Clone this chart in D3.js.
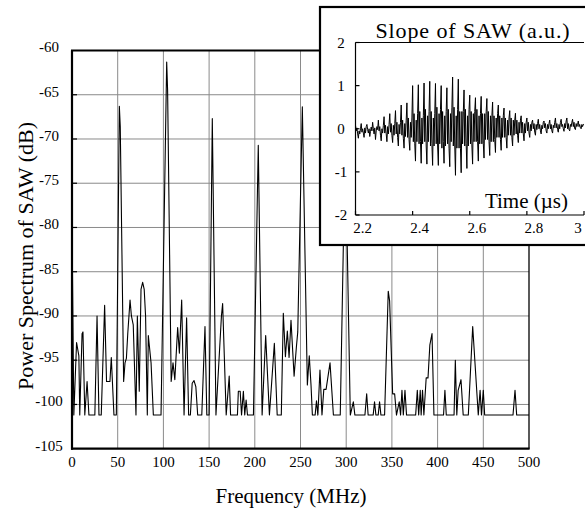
<!DOCTYPE html>
<html><head><meta charset="utf-8">
<script src="https://cdn.jsdelivr.net/npm/d3@7"></script>
<style>
body{margin:0;background:#fff}
svg{display:block}
svg text{font-family:"Liberation Serif","Times New Roman",Times,serif;fill:#000}
</style>
</head><body>
<svg id="c" width="585" height="518"></svg>
<script>
// ---- main spectrum data (MHz, dB) ----
const freqMHz = [
  0, 2, 5, 7.5, 8.5, 11, 12, 14, 16.5, 18.5,
  25, 27.4, 29.5, 32, 35.7, 37.8, 41.5, 43, 45.9, 48.5,
  51.8, 52.8, 56.5, 58, 59.5, 61, 63.5, 65, 67, 70,
  71.5, 73.6, 75.5, 77.3, 79, 80.5, 82.4, 83.5, 86.5, 89,
  97.4, 103.6, 104.6, 108.5, 110.5, 112.5, 115.6, 117.5, 120, 122.6,
  125.4, 127.6, 129.5, 131.5, 133.5, 135.5, 137.5, 142, 145.5, 147.5,
  150, 153.5, 157.5, 163.5, 164.8, 168.7, 172, 173.5, 181, 182,
  184, 185.5, 187.5, 189, 190.5, 192, 196, 198.5, 203.8, 208,
  211.9, 216, 221.4, 224.5, 229, 231.2, 233.5, 235.6, 237.5, 239.6,
  243, 245.5, 247, 252, 257.5, 259.6, 261.5, 263, 266, 267.5,
  269, 271.3, 273.5, 275.5, 278, 282.3, 286, 293.5, 299, 304.5,
  307.8, 309.5, 320.5, 322.4, 324, 329.5, 331, 332.5, 335, 336.5,
  338, 342, 346, 347.5, 350.8, 353, 355, 358, 359.5, 361,
  362.5, 364.3, 366, 376, 377.8, 379.3, 381, 382, 383.5, 385,
  387.5, 389.5, 391.5, 393.9, 396, 406.5, 408, 409.5, 418, 419.4,
  421, 422.5, 425.6, 428, 433.6, 438.4, 444.5, 446.5, 448, 450,
  451.5, 482.5, 484.7, 486.5, 500
];
const powerDB = [
  -79.5, -101.2, -93, -94.5, -101.2, -92, -91.8, -101.2, -97.4, -101.2,
  -101.2, -90, -101.2, -101.2, -88.8, -97.4, -97.4, -94.7, -101.2, -101.2,
  -66.3, -68.6, -97.4, -95.3, -94.8, -92, -88.2, -90, -91, -101.2,
  -90, -98.5, -87, -86.2, -87, -90, -101.2, -92.2, -95.3, -101.2,
  -101.2, -61.3, -64.5, -97.4, -95.3, -97.2, -91.3, -94.2, -88.2, -101.2,
  -90.2, -101.2, -101.2, -97.6, -97.3, -98, -101.2, -101.2, -91.2, -101.2,
  -101.2, -67.7, -101.2, -90, -88.6, -101.2, -96.8, -101.2, -101.2, -98.5,
  -98.5, -101.2, -98.5, -101.2, -99.5, -101.2, -101.2, -101.2, -70.7, -101.2,
  -92.2, -101.2, -93.1, -101.2, -101.2, -89.7, -94.6, -91.7, -94.7, -90.5,
  -96.8, -93.5, -91.8, -66.35, -97.8, -94.5, -97.8, -101.2, -101.2, -99.6,
  -101.2, -96.1, -101.2, -98.3, -98.3, -95.3, -101.2, -101.2, -70, -101.2,
  -99.7, -101.2, -101.2, -98.8, -101.2, -101.2, -99.7, -101.2, -101.2, -99.7,
  -101.2, -101.2, -87.2, -88.3, -98.8, -98.8, -101.2, -99.7, -101.2, -98.4,
  -101.2, -98.4, -101.2, -101.2, -98.4, -101.2, -98.4, -101.2, -98.4, -101.2,
  -97, -97, -93.3, -92, -101.2, -101.2, -98.4, -101.2, -101.2, -95,
  -101.2, -98.4, -97.2, -101.2, -101.2, -91.2, -101.2, -98.4, -101.2, -98.4,
  -101.2, -101.2, -98.4, -101.2, -101.2
];
const xTickValues = [0, 50, 100, 150, 200, 250, 300, 350, 400, 450, 500];
const yTickValues = [-105, -100, -95, -90, -85, -80, -75, -70, -65, -60];

// ---- inset waveform data: scope samples every 2.5 ns from 2.2 µs (a.u.) ----
const waveStartUs = 2.2;
const waveSampleUs = 0.0025;
const waveSlope = [
  0.08, -0.05, 0.02, -0.12, -0.22, -0.05, -0.12, 0.0,
  0.12, -0.08, 0.0, -0.1, -0.2, 0.02, -0.1, 0.05,
  0.1, -0.02, -0.1, 0.0, -0.18, -0.06, 0.04, -0.05,
  0.15, 0.0, -0.12, 0.02, -0.25, -0.05, 0.05, -0.02,
  0.2, -0.05, 0.05, -0.15, -0.28, 0.0, -0.1, 0.08,
  0.28, -0.1, 0.08, -0.12, -0.3, 0.05, -0.12, 0.1,
  0.35, -0.08, 0.12, -0.15, -0.32, 0.08, -0.15, 0.12,
  0.42, -0.12, 0.15, -0.2, -0.4, 0.1, -0.12, 0.15,
  0.55, -0.15, 0.2, -0.22, -0.45, 0.12, -0.18, 0.2,
  0.6, -0.2, 0.25, -0.25, -0.5, 0.15, -0.2, 0.25,
  1.0, -0.3, 0.35, -0.35, -0.75, 0.2, -0.3, 0.35,
  1.02, -0.35, 0.4, -0.3, -0.8, 0.25, -0.35, 0.3,
  1.06, -0.3, 0.45, -0.4, -0.82, 0.3, -0.3, 0.4,
  1.1, -0.4, 0.4, -0.35, -0.85, 0.25, -0.4, 0.35,
  1.05, -0.35, 0.5, -0.4, -0.85, 0.35, -0.35, 0.45,
  1.0, -0.45, 0.4, -0.3, -0.8, 0.3, -0.4, 0.4,
  0.95, -0.35, 0.45, -0.45, -0.88, 0.35, -0.3, 0.5,
  1.2, -0.4, 0.5, -0.4, -1.08, 0.3, -0.45, 0.45,
  1.15, -0.45, 0.4, -0.45, -1.02, 0.4, -0.35, 0.4,
  0.9, -0.4, 0.45, -0.35, -0.92, 0.3, -0.4, 0.45,
  0.78, -0.35, 0.4, -0.4, -0.82, 0.35, -0.3, 0.4,
  0.72, -0.3, 0.45, -0.3, -0.75, 0.3, -0.35, 0.35,
  0.75, -0.35, 0.35, -0.35, -0.68, 0.35, -0.25, 0.4,
  0.7, -0.25, 0.4, -0.3, -0.62, 0.3, -0.3, 0.3,
  0.62, -0.3, 0.3, -0.25, -0.55, 0.25, -0.2, 0.35,
  0.55, -0.2, 0.3, -0.25, -0.5, 0.25, -0.2, 0.3,
  0.48, -0.2, 0.25, -0.2, -0.45, 0.2, -0.15, 0.25,
  0.42, -0.15, 0.25, -0.2, -0.4, 0.2, -0.15, 0.2,
  0.36, -0.12, 0.2, -0.15, -0.32, 0.15, -0.1, 0.2,
  0.3, -0.1, 0.15, -0.12, -0.28, 0.12, -0.1, 0.15,
  0.25, -0.05, 0.15, -0.1, -0.2, 0.1, -0.05, 0.15,
  0.2, 0.0, 0.12, -0.08, -0.15, 0.1, -0.02, 0.12,
  0.22, 0.0, 0.1, -0.05, -0.12, 0.08, 0.0, 0.15,
  0.18, 0.02, 0.12, -0.05, -0.1, 0.1, 0.0, 0.12,
  0.2, 0.0, 0.1, -0.05, -0.1, 0.08, 0.02, 0.15,
  0.25, 0.02, 0.12, -0.02, -0.08, 0.1, 0.0, 0.15,
  0.22, 0.05, 0.1, 0.0, -0.06, 0.12, 0.02, 0.18,
  0.25, 0.0, 0.12, -0.02, -0.05, 0.1, 0.05, 0.15,
  0.22, 0.05, 0.15, 0.0, -0.02, 0.12, 0.05, 0.1,
  0.18, 0.05, 0.1, 0.02, 0.0, 0.1, 0.05, 0.1,
  0.1
];
const insetXTicks = [2.2, 2.4, 2.6, 2.8, 3];
const insetYTicks = [-2, -1, 0, 1, 2];

// ---- labels ----
const yTitle = "Power Spectrum of SAW (dB)";
const xTitle = "Frequency (MHz)";
const insetTitle = "Slope of SAW (a.u.)";
const insetXTitle = "Time (\u00B5s)";

const FONT = "'Liberation Serif', 'Times New Roman', Times, serif";
const svg = d3.select("#c");

// main plot area
const M = {left: 72, right: 529, top: 50.5, bottom: 448.7};
const x = d3.scaleLinear().domain([0, 500]).range([M.left, M.right]);
const y = d3.scaleLinear().domain([-105, -60]).range([M.bottom, M.top]);

const grid = svg.append("g").attr("stroke", "#8a8a8a").attr("stroke-width", 1);
grid.selectAll("line.v").data(xTickValues.slice(1, -1)).join("line")
  .attr("x1", d => x(d)).attr("x2", d => x(d))
  .attr("y1", M.top).attr("y2", M.bottom);
grid.selectAll("line.h").data(yTickValues.slice(1, -1)).join("line")
  .attr("x1", M.left).attr("x2", M.right)
  .attr("y1", d => y(d)).attr("y2", d => y(d));

// y tick marks (inside)
svg.append("g").attr("stroke", "#000").attr("stroke-width", 1.2)
  .selectAll("line").data(yTickValues.slice(1, -1)).join("line")
  .attr("x1", M.left).attr("x2", M.left + 5)
  .attr("y1", d => y(d)).attr("y2", d => y(d));

// spectrum line
const specData = freqMHz.map((f, i) => [f, powerDB[i]]);
svg.append("path").datum(specData)
  .attr("fill", "none").attr("stroke", "#000").attr("stroke-width", 1.1)
  .attr("stroke-linejoin", "round")
  .attr("d", d3.line().x(d => x(d[0])).y(d => y(d[1])));

// frame
svg.append("line").attr("x1", M.right).attr("x2", M.right).attr("y1", M.top).attr("y2", M.bottom)
  .attr("stroke", "#000").attr("stroke-width", 1.3);
svg.append("line").attr("x1", M.left - 1).attr("x2", M.right + 0.6).attr("y1", M.top).attr("y2", M.top)
  .attr("stroke", "#000").attr("stroke-width", 2);
svg.append("line").attr("x1", M.left).attr("x2", M.left).attr("y1", M.top).attr("y2", M.bottom + 1)
  .attr("stroke", "#000").attr("stroke-width", 2.2);
svg.append("line").attr("x1", M.left - 1).attr("x2", M.right + 0.6).attr("y1", M.bottom).attr("y2", M.bottom)
  .attr("stroke", "#000").attr("stroke-width", 2.2);

// tick labels
svg.append("g").selectAll("text").data(yTickValues).join("text")
  .style("font-family", FONT)
  .attr("x", 49).attr("y", d => y(d) + 1.8)
  .attr("text-anchor", "middle").attr("font-size", 15)
  .text(d => d);
svg.append("g").selectAll("text").data(xTickValues).join("text")
  .style("font-family", FONT)
  .attr("x", d => x(d)).attr("y", 467)
  .attr("text-anchor", "middle").attr("font-size", 15)
  .text(d => d);

// axis titles
svg.append("text").attr("transform", "translate(33,256) rotate(-90)")
  .style("font-family", FONT)
  .attr("text-anchor", "middle").attr("font-size", 22).text(yTitle);
svg.append("text").attr("x", 291).attr("y", 503)
  .style("font-family", FONT)
  .attr("text-anchor", "middle").attr("font-size", 21).text(xTitle);

// ---- inset ----
svg.append("rect").attr("x", 320).attr("y", 7).attr("width", 272).attr("height", 238)
  .attr("fill", "#fff").attr("stroke", "#000").attr("stroke-width", 2.2);

const I = {left: 355.5, right: 584, top: 42.5, bottom: 215};
const tx = d3.scaleLinear().domain([2.2, 3]).range([I.left, I.right]);
const ty = d3.scaleLinear().domain([-2, 2]).range([I.bottom, I.top]);

const waveData = waveSlope.map((v, i) => [waveStartUs + i * waveSampleUs, v]);
svg.append("path").datum(waveData)
  .attr("fill", "none").attr("stroke", "#000").attr("stroke-width", 1)
  .attr("stroke-linejoin", "round")
  .attr("d", d3.line().x(d => tx(d[0])).y(d => ty(d[1])));

const ia = svg.append("g").attr("stroke", "#000").attr("stroke-width", 1.2);
ia.append("line").attr("x1", I.left).attr("x2", I.left).attr("y1", I.top).attr("y2", I.bottom);
ia.append("line").attr("x1", I.left).attr("x2", I.right).attr("y1", I.bottom).attr("y2", I.bottom);
ia.append("line").attr("x1", I.left).attr("x2", I.right).attr("y1", I.top).attr("y2", I.top);
ia.selectAll("line.ty").data(insetYTicks).join("line")
  .attr("x1", I.left).attr("x2", I.left + 4)
  .attr("y1", d => ty(d)).attr("y2", d => ty(d));
ia.selectAll("line.tx").data(insetXTicks).join("line")
  .attr("x1", d => tx(d)).attr("x2", d => tx(d))
  .attr("y1", I.bottom).attr("y2", I.bottom - 4);

svg.append("g").selectAll("text").data(insetYTicks).join("text")
  .style("font-family", FONT)
  .attr("x", 341).attr("y", d => ty(d) + 5)
  .attr("text-anchor", "middle").attr("font-size", 15)
  .text(d => d);
svg.append("g").selectAll("text").data(insetXTicks).join("text")
  .style("font-family", FONT)
  .attr("x", d => d === 3 ? 578 : tx(d) + 7).attr("y", 233)
  .attr("text-anchor", "middle").attr("font-size", 15)
  .text(d => d);

svg.append("text").attr("x", 473).attr("y", 37.5)
  .style("font-family", FONT).attr("letter-spacing", 0.9)
  .attr("text-anchor", "middle").attr("font-size", 22).text(insetTitle);
svg.append("text").attr("x", 568).attr("y", 208)
  .style("font-family", FONT)
  .attr("text-anchor", "end").attr("font-size", 21).text(insetXTitle);
</script>
</body></html>
